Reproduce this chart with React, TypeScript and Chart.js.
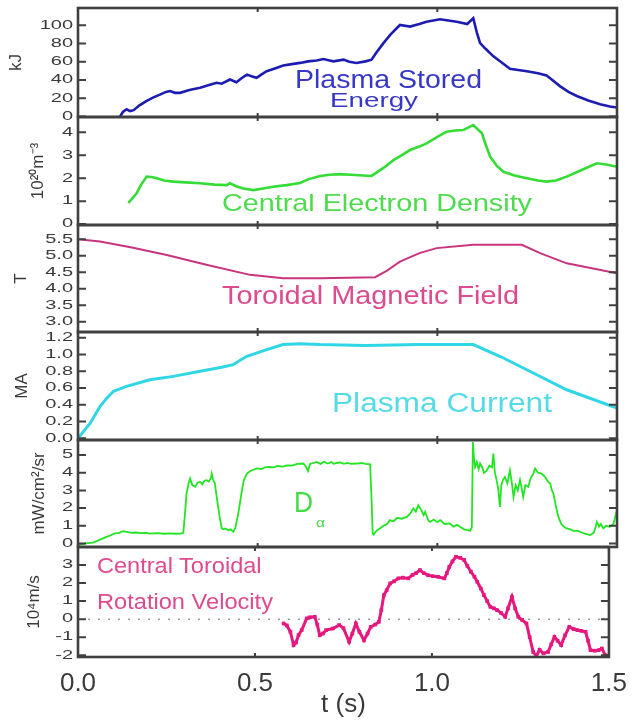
import React, { useEffect, useRef } from 'react';
import { Chart, registerables } from 'chart.js';

Chart.register(...registerables);

const FONT = '"Liberation Sans", Arial, Helvetica, sans-serif';

// ---------------- data ----------------
const timeTicks = [0, 0.5, 1.0, 1.5];

const energyT = [0.117, 0.125, 0.135, 0.145, 0.155, 0.17, 0.19, 0.21, 0.228, 0.245, 0.256, 0.27, 0.284, 0.31, 0.34, 0.36, 0.386, 0.4, 0.423, 0.441, 0.455, 0.47, 0.485, 0.497, 0.51, 0.525, 0.55, 0.571, 0.595, 0.618, 0.64, 0.664, 0.683, 0.7, 0.711, 0.739, 0.755, 0.775, 0.8, 0.817, 0.83, 0.85, 0.87, 0.896, 0.924, 0.95, 0.97, 1.0075, 1.035, 1.054, 1.083, 1.1, 1.11, 1.119, 1.135, 1.156, 1.18, 1.202, 1.225, 1.249, 1.28, 1.304, 1.32, 1.341, 1.365, 1.388, 1.42, 1.453, 1.48, 1.5];
const energyV = [0, 5, 8, 6, 7, 12, 17, 21, 24, 27, 28, 26, 26, 29, 31.6, 34, 37, 36, 40.6, 37.7, 42, 46, 44, 42.5, 46, 49.7, 53, 55.9, 57.5, 58.8, 60.5, 61.5, 63, 61.5, 60.5, 62.4, 60, 58.8, 60.5, 62.4, 70, 80.5, 90, 100.4, 98.6, 101.5, 104, 106.6, 105, 104, 101.5, 107.7, 92, 80.5, 74, 66, 59, 52.3, 51, 49.7, 47.5, 45, 40, 33.4, 27, 22.5, 17.5, 13.5, 11, 9.9];
const energyTicks = [0, 20, 40, 60, 80, 100];

const densityT = [0.14, 0.15, 0.163, 0.175, 0.191, 0.205, 0.219, 0.24, 0.265, 0.3, 0.34, 0.38, 0.414, 0.423, 0.44, 0.46, 0.488, 0.515, 0.543, 0.58, 0.618, 0.64, 0.674, 0.7, 0.729, 0.77, 0.817, 0.85, 0.878, 0.9, 0.924, 0.95, 0.97, 1.0, 1.026, 1.05, 1.072, 1.1, 1.124, 1.135, 1.147, 1.165, 1.184, 1.215, 1.249, 1.28, 1.304, 1.33, 1.36, 1.4, 1.444, 1.47, 1.5];
const densityV = [0.93, 1.1, 1.34, 1.7, 2.07, 2.05, 2.0, 1.9, 1.85, 1.82, 1.78, 1.72, 1.7, 1.78, 1.65, 1.55, 1.48, 1.55, 1.63, 1.7, 1.79, 1.95, 2.1, 2.15, 2.18, 2.14, 2.1, 2.45, 2.79, 3.0, 3.23, 3.38, 3.52, 3.8, 4.03, 4.08, 4.1, 4.32, 3.96, 3.45, 2.94, 2.55, 2.28, 2.12, 2.0, 1.9, 1.85, 1.9, 2.07, 2.35, 2.65, 2.6, 2.5];
const densityTicks = [0, 1, 2, 3, 4];

const fieldT = [0, 0.061, 0.15, 0.247, 0.36, 0.479, 0.571, 0.674, 0.827, 0.86, 0.896, 0.95, 0.998, 1.1, 1.235, 1.286, 1.36, 1.5];
const fieldV = [5.5, 5.43, 5.25, 5.02, 4.72, 4.42, 4.32, 4.32, 4.35, 4.55, 4.82, 5.08, 5.23, 5.33, 5.33, 5.08, 4.77, 4.47];
const fieldTicks = [3.0, 3.5, 4.0, 4.5, 5.0, 5.5];

const currentT = [0, 0.034, 0.061, 0.08, 0.098, 0.135, 0.2, 0.265, 0.34, 0.4, 0.432, 0.45, 0.47, 0.525, 0.571, 0.618, 0.674, 0.8, 0.95, 1.1, 1.174, 1.267, 1.36, 1.5];
const currentV = [0, 0.18, 0.38, 0.48, 0.56, 0.62, 0.7, 0.74, 0.8, 0.85, 0.88, 0.93, 0.98, 1.06, 1.12, 1.13, 1.12, 1.11, 1.12, 1.12, 0.98, 0.78, 0.58, 0.36];
const currentTicks = [0, 0.2, 0.4, 0.6, 0.8, 1.0, 1.2];

const dalphaT = [0, 0.02, 0.042, 0.06, 0.079, 0.09, 0.1, 0.115, 0.125, 0.135, 0.15, 0.16, 0.175, 0.19, 0.2, 0.22, 0.24, 0.256, 0.27, 0.284, 0.293, 0.297, 0.302, 0.308, 0.312, 0.318, 0.326, 0.333, 0.34, 0.346, 0.352, 0.358, 0.364, 0.37, 0.372, 0.376, 0.381, 0.386, 0.39, 0.395, 0.4, 0.405, 0.41, 0.418, 0.425, 0.432, 0.438, 0.446, 0.45, 0.456, 0.462, 0.47, 0.48, 0.497, 0.51, 0.52, 0.534, 0.545, 0.555, 0.57, 0.581, 0.595, 0.61, 0.627, 0.634, 0.64, 0.646, 0.655, 0.664, 0.675, 0.685, 0.695, 0.705, 0.712, 0.72, 0.73, 0.74, 0.75, 0.76, 0.776, 0.79, 0.8, 0.813, 0.817, 0.82, 0.823, 0.83, 0.84, 0.85, 0.86, 0.868, 0.878, 0.888, 0.9, 0.915, 0.925, 0.933, 0.94, 0.947, 0.955, 0.962, 0.966, 0.975, 0.98, 0.99, 1.0, 1.008, 1.02, 1.035, 1.045, 1.055, 1.063, 1.075, 1.085, 1.091, 1.096, 1.099, 1.102, 1.105, 1.11, 1.115, 1.119, 1.125, 1.13, 1.137, 1.145, 1.152, 1.156, 1.16, 1.165, 1.17, 1.174, 1.178, 1.183, 1.188, 1.195, 1.202, 1.207, 1.212, 1.218, 1.224, 1.23, 1.235, 1.239, 1.245, 1.253, 1.26, 1.266, 1.272, 1.28, 1.29, 1.3, 1.308, 1.314, 1.319, 1.323, 1.33, 1.337, 1.345, 1.352, 1.36, 1.37, 1.38, 1.39, 1.397, 1.41, 1.425, 1.435, 1.44, 1.444, 1.45, 1.455, 1.462, 1.47, 1.48, 1.49, 1.495, 1.5];
const dalphaV = [-0.1, 0.0, 0.05, 0.2, 0.37, 0.45, 0.55, 0.6, 0.7, 0.66, 0.6, 0.62, 0.58, 0.6, 0.56, 0.58, 0.55, 0.57, 0.55, 0.56, 0.6, 1.5, 2.82, 3.4, 3.67, 3.3, 3.2, 3.45, 3.48, 3.35, 3.55, 3.58, 3.5, 3.7, 3.95, 3.6, 3.39, 2.63, 2.07, 1.4, 0.85, 0.8, 0.85, 0.75, 0.8, 0.66, 0.9, 1.69, 2.2, 3.0, 3.6, 3.95, 4.1, 4.24, 4.2, 4.3, 4.33, 4.3, 4.38, 4.35, 4.42, 4.4, 4.5, 4.52, 4.35, 4.1, 4.5, 4.55, 4.61, 4.5, 4.62, 4.52, 4.6, 4.5, 4.55, 4.58, 4.5, 4.55, 4.5, 4.52, 4.55, 4.5, 4.48, 2.5, 0.56, 0.5, 0.7, 0.85, 1.0, 1.1, 1.32, 1.25, 1.45, 1.4, 1.5, 1.7, 1.98, 1.8, 2.16, 1.9, 1.6, 1.79, 1.3, 1.22, 1.35, 1.2, 1.32, 1.1, 1.13, 0.95, 1.05, 0.94, 0.8, 0.75, 0.71, 0.9, 5.74, 4.8, 4.33, 4.6, 4.2, 4.52, 4.3, 4.0, 4.1, 4.4, 4.3, 5.08, 4.0, 3.58, 3.0, 2.07, 3.3, 3.6, 3.76, 3.4, 4.14, 3.5, 2.63, 3.3, 3.0, 3.58, 3.1, 2.63, 3.3, 3.2, 3.7, 3.9, 4.24, 4.0, 3.95, 3.75, 3.5, 3.39, 3.0, 2.82, 2.1, 1.5, 1.1, 0.95, 0.85, 0.8, 0.7, 0.72, 0.66, 0.55, 0.47, 0.6, 0.9, 1.22, 0.95, 1.1, 0.85, 1.0, 0.94, 1.1, 1.5, 1.88];
const dalphaTicks = [0, 1, 2, 3, 4, 5];

const rotationT = [0.581, 0.59, 0.6, 0.609, 0.616, 0.623, 0.632, 0.646, 0.655, 0.669, 0.676, 0.683, 0.692, 0.701, 0.72, 0.738, 0.75, 0.766, 0.775, 0.785, 0.795, 0.808, 0.818, 0.827, 0.84, 0.85, 0.857, 0.864, 0.872, 0.882, 0.893, 0.905, 0.918, 0.933, 0.945, 0.955, 0.966, 0.977, 0.989, 1.003, 1.017, 1.035, 1.042, 1.049, 1.058, 1.068, 1.08, 1.091, 1.1, 1.11, 1.12, 1.128, 1.138, 1.147, 1.156, 1.165, 1.175, 1.184, 1.195, 1.207, 1.215, 1.226, 1.235, 1.244, 1.255, 1.267, 1.276, 1.286, 1.295, 1.304, 1.315, 1.328, 1.337, 1.346, 1.355, 1.365, 1.376, 1.388, 1.4, 1.411, 1.422, 1.434, 1.441, 1.448, 1.46, 1.471, 1.48, 1.49, 1.5];
const rotationV = [-0.24, -0.35, -0.7, -1.44, -1.3, -0.89, -0.61, 0.04, 0.1, 0.13, -0.3, -0.89, -0.8, -0.61, -0.52, -0.33, -0.5, -1.26, -0.8, -0.24, -0.7, -1.17, -0.8, -0.43, -0.3, -0.15, 0.5, 1.33, 1.6, 1.98, 2.1, 2.26, 2.3, 2.26, 2.45, 2.55, 2.72, 2.55, 2.44, 2.38, 2.35, 2.26, 2.55, 2.9, 3.2, 3.46, 3.4, 3.28, 2.95, 2.63, 2.35, 2.07, 1.7, 1.33, 1.0, 0.68, 0.6, 0.5, 0.35, 0.13, 0.6, 1.24, 0.6, 0.13, -0.05, -0.24, -1.0, -1.82, -2.05, -1.7, -1.9, -1.82, -1.4, -0.98, -1.2, -1.44, -0.9, -0.43, -0.55, -0.61, -0.65, -0.7, -1.2, -1.72, -1.75, -1.72, -1.63, -2.0, -2.05];
const rotationTicks = [-2, -1, 0, 1, 2, 3];

const zeroLineT = [0, 1.5];
const zeroLineV = [0, 0];

// ---------------- layout ----------------
const PAD = 12;
const W = 638;
const PLOT_LEFT = 78;
const PLOT_RIGHT_GAP = 21;
const AXIS_TEXT = '#3a3a3a';

type DS = { t: number[]; v: number[]; color: string; width: number; radius?: number; dash?: number[] };
type Spec = {
  top: number; bottom: number; min: number; max: number; ticks: number[]; decimals: number;
  title: string; titlePad: number; datasets: DS[]; last?: boolean;
};

const specs: Spec[] = [
  { top: 8, bottom: 117, min: -0.5, max: 119, ticks: energyTicks, decimals: 0, title: 'kJ', titlePad: 6,
    datasets: [{ t: energyT, v: energyV, color: '#1c1cb0', width: 2.6 }] },
  { top: 117, bottom: 225, min: -0.04, max: 4.67, ticks: densityTicks, decimals: 0, title: '10²⁰m⁻³', titlePad: 28,
    datasets: [{ t: densityT, v: densityV, color: '#35dc35', width: 2.6 }] },
  { top: 225, bottom: 332, min: 2.69, max: 5.93, ticks: fieldTicks, decimals: 1, title: 'T', titlePad: 11,
    datasets: [{ t: fieldT, v: fieldV, color: '#c9347e', width: 2 }] },
  { top: 332, bottom: 440, min: -0.02, max: 1.27, ticks: currentTicks, decimals: 1, title: 'MA', titlePad: 12,
    datasets: [{ t: currentT, v: currentV, color: '#2fd6e6', width: 3 }] },
  { top: 440, bottom: 547, min: -0.2, max: 5.85, ticks: dalphaTicks, decimals: 0, title: 'mW/cm²/sr', titlePad: 29,
    datasets: [{ t: dalphaT, v: dalphaV, color: '#22e622', width: 1.8 }] },
  { top: 547, bottom: 657, min: -2.1, max: 4.0, ticks: rotationTicks, decimals: 0, title: '10⁴m/s', titlePad: 24, last: true,
    datasets: [
      { t: rotationT, v: rotationV, color: '#e6187e', width: 3, radius: 2.6 },
      { t: zeroLineT, v: zeroLineV, color: '#9a9a9a', width: 1.5, dash: [2, 8] },
    ] },
];

const framePlugin = {
  id: 'frame',
  afterDraw(chart: any, _args: any, opts: any) {
    const { ctx, chartArea: a, scales } = chart;
    const ys = scales.y;
    const xs = scales.x;
    const decimals = opts.decimals ?? 0;
    ctx.save();
    ctx.strokeStyle = '#404040';
    ctx.lineWidth = 2.6;
    ctx.strokeRect(a.left, a.top, a.right - a.left, a.bottom - a.top);
    ctx.lineWidth = 2;
    ctx.beginPath();
    ys.ticks.forEach((t: any) => {
      const py = ys.getPixelForValue(t.value);
      ctx.moveTo(a.left, py); ctx.lineTo(a.left + 8, py);
      ctx.moveTo(a.right, py); ctx.lineTo(a.right - 8, py);
    });
    xs.ticks.forEach((t: any) => {
      const px = xs.getPixelForValue(t.value);
      ctx.moveTo(px, a.top); ctx.lineTo(px, a.top + 4);
      ctx.moveTo(px, a.bottom); ctx.lineTo(px, a.bottom - 4);
    });
    ctx.stroke();
    ctx.fillStyle = AXIS_TEXT;
    ctx.font = `20px ${FONT}`;
    ctx.textAlign = 'right';
    ctx.textBaseline = 'middle';
    ys.ticks.forEach((t: any) => {
      const py = ys.getPixelForValue(t.value);
      ctx.save();
      ctx.translate(a.left - 5, py);
      ctx.scale(1, 0.6);
      ctx.fillText(Number(t.value).toFixed(decimals), 0, 0);
      ctx.restore();
    });
    ctx.restore();
  },
};

function Panel({ spec }: { spec: Spec }) {
  const ref = useRef<HTMLCanvasElement>(null);
  const top = spec.top - PAD;
  const h = (spec.last ? 720 : spec.bottom + PAD) - top;
  useEffect(() => {
    const chart = new Chart(ref.current as HTMLCanvasElement, {
      type: 'line',
      data: {
        datasets: spec.datasets.map((d) => ({
          data: d.t.map((t, i) => ({ x: t, y: d.v[i] })),
          borderColor: d.color,
          backgroundColor: d.color,
          borderWidth: d.width,
          borderDash: d.dash || [],
          pointRadius: d.radius || 0,
          pointStyle: 'rect',
          pointBorderWidth: 0,
          pointBackgroundColor: d.color,
          tension: 0,
          fill: false,
        })),
      },
      options: {
        responsive: false,
        maintainAspectRatio: false,
        animation: false,
        events: [],
        layout: { padding: { top: PAD, bottom: spec.last ? 0 : PAD, left: 0, right: PLOT_RIGHT_GAP } },
        plugins: {
          legend: { display: false },
          tooltip: { enabled: false },
          frame: { decimals: spec.decimals },
        } as any,
        scales: {
          x: {
            type: 'linear',
            min: 0,
            max: 1.5,
            display: !!spec.last,
            afterBuildTicks: (s: any) => { s.ticks = timeTicks.map((v) => ({ value: v })); },
            afterFit: (s: any) => { s.height = spec.last ? 720 - 657 : 0; },
            grid: { display: false, drawTicks: false },
            border: { display: false },
            ticks: {
              font: { family: FONT, size: 26 },
              color: AXIS_TEXT,
              padding: 11,
              maxRotation: 0,
              autoSkip: false,
              callback: (v: any) => Number(v).toFixed(1),
            },
            title: {
              display: true,
              text: 't (s)',
              font: { family: FONT, size: 26 },
              color: AXIS_TEXT,
              padding: { top: 0, bottom: 0 },
            },
          },
          y: {
            type: 'linear',
            position: 'left',
            min: spec.min,
            max: spec.max,
            afterBuildTicks: (s: any) => { s.ticks = spec.ticks.map((v) => ({ value: v })); },
            afterFit: (s: any) => { s.width = PLOT_LEFT; },
            grid: { display: false, drawTicks: false },
            border: { display: false },
            ticks: { display: false },
            title: {
              display: true,
              text: spec.title,
              font: { family: FONT, size: 17 },
              color: AXIS_TEXT,
              padding: { top: spec.titlePad, bottom: 0 },
            },
          },
        },
      } as any,
      plugins: [framePlugin],
    });
    return () => chart.destroy();
  }, []);
  return (
    <canvas
      ref={ref}
      width={W}
      height={h}
      style={{ position: 'absolute', left: 0, top, width: W, height: h }}
    />
  );
}

let measureCtx: CanvasRenderingContext2D | null = null;
function measure(text: string, fs: number) {
  if (!measureCtx) measureCtx = document.createElement('canvas').getContext('2d');
  if (!measureCtx) return text.length * fs * 0.5;
  measureCtx.font = `${fs}px ${FONT}`;
  return measureCtx.measureText(text).width;
}

type Ann = { text: string; x: number; base: number; fs: number; w: number; color: string };
const annotations: Ann[] = [
  { text: 'Plasma Stored', x: 295, base: 88, fs: 25, w: 187, color: '#3838c6' },
  { text: 'Energy', x: 330, base: 107, fs: 21, w: 88, color: '#3838c6' },
  { text: 'Central Electron Density', x: 222, base: 211, fs: 24, w: 310, color: '#4cdc4c' },
  { text: 'Toroidal Magnetic Field', x: 222, base: 304, fs: 26, w: 297, color: '#de4a8e' },
  { text: 'Plasma Current', x: 332, base: 413, fs: 27, w: 220, color: '#55dbe8' },
  { text: 'D', x: 294, base: 512, fs: 30, w: 19, color: '#44dc44' },
  { text: 'α', x: 316, base: 527, fs: 12, w: 9, color: '#44dc44' },
  { text: 'Central Toroidal', x: 97, base: 574, fs: 22, w: 165, color: '#de4a8e' },
  { text: 'Rotation Velocity', x: 97, base: 610, fs: 22, w: 176, color: '#de4a8e' },
];

function Label({ a }: { a: Ann }) {
  const sx = a.w / measure(a.text, a.fs);
  return (
    <div
      style={{
        position: 'absolute',
        left: a.x,
        top: a.base - 0.8465 * a.fs,
        fontFamily: FONT,
        fontSize: a.fs,
        lineHeight: `${a.fs}px`,
        color: a.color,
        whiteSpace: 'nowrap',
        transform: `scaleX(${sx})`,
        transformOrigin: '0 0',
      }}
    >
      {a.text}
    </div>
  );
}

export default function App() {
  return (
    <div style={{ position: 'fixed', left: 0, top: 0, width: W, height: 720, background: '#fff', overflow: 'hidden' }}>
      {specs.map((s, i) => (
        <Panel key={i} spec={s} />
      ))}
      {annotations.map((a, i) => (
        <Label key={i} a={a} />
      ))}
    </div>
  );
}
